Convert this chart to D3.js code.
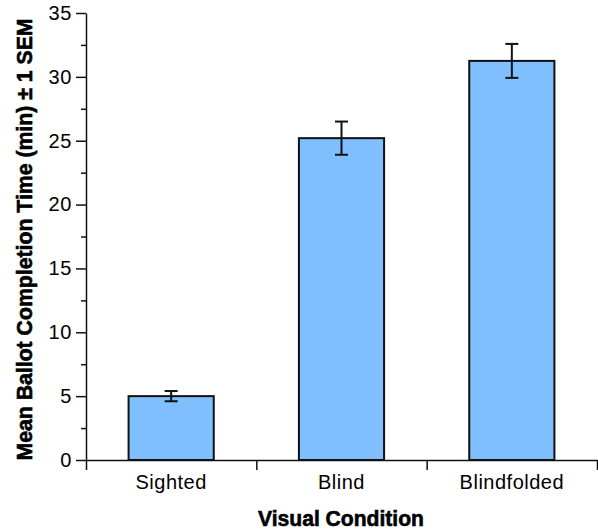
<!DOCTYPE html>
<html>
<head>
<meta charset="utf-8">
<script src="https://cdn.jsdelivr.net/npm/d3@7"></script>
<style>
  body { margin: 0; background: #fff; }
  text { font-family: "Liberation Sans", Arial, Helvetica, sans-serif; fill: #000; }
</style>
</head>
<body>
<div id="chart"></div>
<script>
// data
var conditions = ["Sighted", "Blind", "Blindfolded"];
var meanTimes = [5.0, 25.2, 31.25];
var semValues = [0.4, 1.3, 1.33];
var yMajorTicks = [0, 5, 10, 15, 20, 25, 30, 35];
var yMinorTicks = [2.5, 7.5, 12.5, 17.5, 22.5, 27.5, 32.5];

var W = 598, H = 531;
var margin = { top: 13, right: 1, bottom: 71, left: 86 },
    width = W - margin.left - margin.right,
    height = H - margin.top - margin.bottom;

var svg = d3.select("#chart").append("svg")
    .attr("width", W)
    .attr("height", H)
    .append("g")
    .attr("transform", "translate(" + margin.left + "," + margin.top + ")");

var x = d3.scaleBand().domain(conditions).range([0, width]).padding(0);
var xEdges = d3.scaleLinear().domain([0, conditions.length]).range([0, width]);
var y = d3.scaleLinear().domain([0, 35]).range([height, 0]);

var data = conditions.map(function(c, i) {
    return { name: c, mean: meanTimes[i], sem: semValues[i] };
});

// bars
var barW = x.bandwidth() / 2;
svg.selectAll("rect.bar")
    .data(data)
    .enter().append("rect")
    .attr("class", "bar")
    .attr("x", function(d) { return x(d.name) + x.bandwidth() / 2 - barW / 2; })
    .attr("y", function(d) { return y(d.mean); })
    .attr("width", barW)
    .attr("height", function(d) { return height - y(d.mean); })
    .attr("fill", "#80bfff")
    .attr("stroke", "#111")
    .attr("stroke-width", 2);

// error bars
var cap = 6.5;
var err = svg.selectAll("g.err")
    .data(data)
    .enter().append("g")
    .attr("class", "err")
    .attr("transform", function(d) { return "translate(" + (x(d.name) + x.bandwidth() / 2) + ",0)"; })
    .attr("stroke", "#111")
    .attr("stroke-width", 2);
err.append("line")
    .attr("y1", function(d) { return y(d.mean + d.sem); })
    .attr("y2", function(d) { return y(d.mean - d.sem); });
err.append("line")
    .attr("x1", -cap).attr("x2", cap)
    .attr("y1", function(d) { return y(d.mean + d.sem); })
    .attr("y2", function(d) { return y(d.mean + d.sem); });
err.append("line")
    .attr("x1", -cap).attr("x2", cap)
    .attr("y1", function(d) { return y(d.mean - d.sem); })
    .attr("y2", function(d) { return y(d.mean - d.sem); });

// y axis minor ticks
svg.append("g")
    .call(d3.axisLeft(y).tickValues(yMinorTicks).tickSize(5).tickFormat(""))
    .call(function(g) { g.select(".domain").remove(); });

// y axis
var yAxis = svg.append("g")
    .call(d3.axisLeft(y).tickValues(yMajorTicks).tickSize(10).tickSizeOuter(0).tickPadding(4));
yAxis.selectAll("text").style("font-size", "20px").style("letter-spacing", "0.6px");

// x axis: ticks at band edges
var xAxis = svg.append("g")
    .attr("transform", "translate(0," + height + ")")
    .call(d3.axisBottom(xEdges).tickValues(d3.range(conditions.length + 1)).tickSize(10).tickSizeOuter(0).tickFormat(""));

// x labels
var xLab = svg.append("g")
    .attr("transform", "translate(0," + height + ")")
    .call(d3.axisBottom(x).tickSize(0).tickPadding(15));
xLab.select(".domain").remove();
xLab.selectAll("text").style("font-size", "20px").style("letter-spacing", "0.5px");

svg.selectAll(".domain, .tick line").attr("stroke", "#111").attr("stroke-width", 1.5);

// axis titles
svg.append("text")
    .attr("transform", "rotate(-90)")
    .attr("x", -height / 2 - 3)
    .attr("y", -margin.left + 32)
    .attr("text-anchor", "middle")
    .attr("textLength", 442)
    .attr("lengthAdjust", "spacingAndGlyphs")
    .style("font-size", "22px")
    .style("font-weight", "bold")
    .style("stroke", "#000")
    .style("stroke-width", 0.6)
    .text("Mean Ballot Completion Time (min) \u00b1 1 SEM");

svg.append("text")
    .attr("x", width / 2 - 0.5)
    .attr("y", height + 66)
    .attr("text-anchor", "middle")
    .attr("textLength", 166)
    .attr("lengthAdjust", "spacingAndGlyphs")
    .style("font-size", "22px")
    .style("font-weight", "bold")
    .style("stroke", "#000")
    .style("stroke-width", 0.6)
    .text("Visual Condition");
</script>
</body>
</html>
